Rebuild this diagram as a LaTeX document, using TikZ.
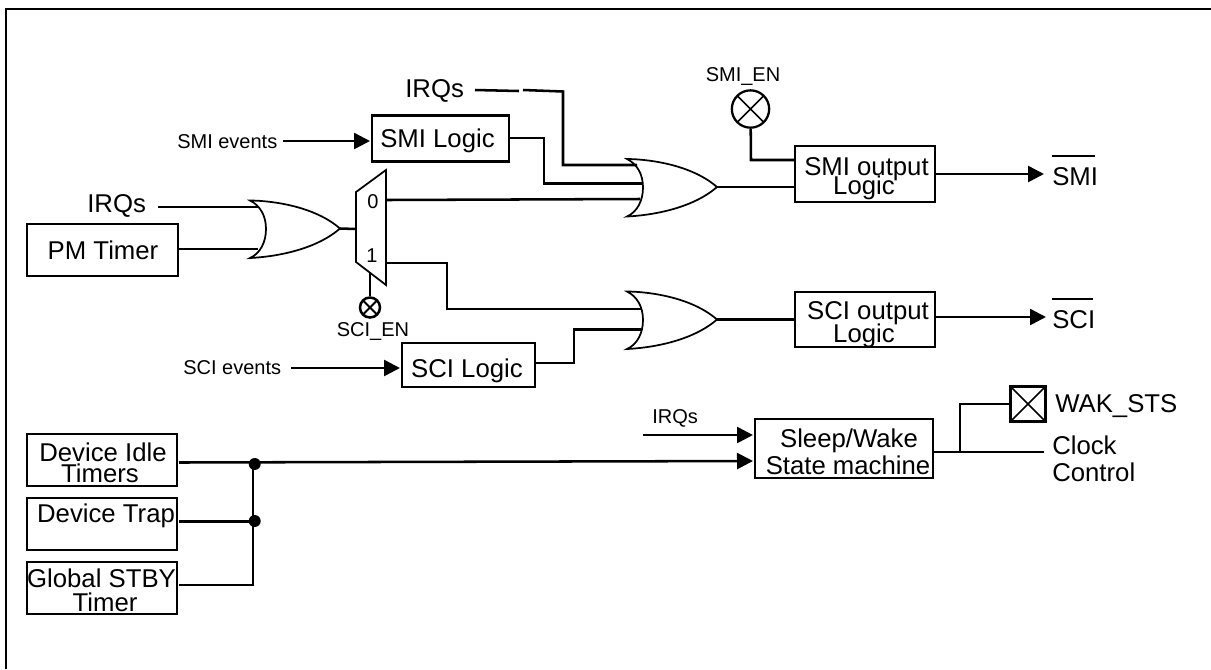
\documentclass[tikz,border=0pt]{standalone}
\usepackage{fontspec}
\setmainfont{Liberation Sans}
\usetikzlibrary{arrows.meta}
\newcommand{\bigf}{\fontsize{19.3}{16}\selectfont}
\newcommand{\smallf}{\fontsize{15}{15}\selectfont}
\tikzset{
  x=0.75pt,y=-0.75pt,
  wire/.style={line width=1.9pt,line cap=butt,line join=miter},
  arrowwire/.style={wire,-{Triangle[length=12pt,width=12pt]}},
  gate/.style={line width=1.3pt,fill=white},
  boxn/.style={draw,line width=1.9pt,inner sep=0pt,outer sep=0pt},
  big/.style={inner sep=0pt,font=\bigf},
  small/.style={inner sep=0pt,font=\smallf},
  dot/.style={circle,fill=black,inner sep=0pt,minimum size=9pt},
  crossed/.style={path picture={
    \draw[line width=#1] (path picture bounding box.north west) -- (path picture bounding box.south east)
     (path picture bounding box.north east) -- (path picture bounding box.south west);}},
}
\newcommand{\pxbox}[5]{%
  \node[boxn,minimum width={(#4-#2)*0.75pt},minimum height={(#5-#3)*0.75pt}] (#1) at ({(#2+#4)/2},{(#3+#5)/2}) {};}
\newcommand{\orgate}[2]{%
  \begin{scope}[shift={#2}]
    \draw[gate] (0,0) .. controls (10,0) and (60,2) .. (90,28)
      .. controls (60,54) and (10,57) .. (0,57.5)
      .. controls (10,53) and (16,42) .. (16,28.5)
      .. controls (16,15) and (10,5) .. (0,0) -- cycle;
    \coordinate (#1-out) at (90,28);
  \end{scope}}
\begin{document}
\begin{tikzpicture}
\useasboundingbox (0,0) rectangle (1211,669);
\coordinate (framebl) at (6,669);
\coordinate (frametl) at (6,9);
\coordinate (frametr) at (1211,9);
\draw[line width=1.6pt] (framebl) -- (frametl) -- (frametr);

% boxes
\pxbox{smilogic}{372}{115.5}{509}{161.5}
\pxbox{pm}{27}{224}{178}{276}
\pxbox{scilogic}{402}{343}{535}{387}
\pxbox{smiout}{795}{146}{935}{202}
\pxbox{sciout}{795}{292}{935}{347}
\pxbox{sleep}{755}{419}{933}{478}
\pxbox{idle}{27}{434}{177}{486}
\pxbox{trap}{27}{498}{177}{550}
\pxbox{stby}{27}{562}{177}{614}
\node[boxn,crossed=1.3pt,minimum size=26.5pt] (wak) at (1028,404) {};

% box texts
\node[big,anchor=base] (t1) at (437.5,147) {SMI Logic};
\node[big,anchor=base] (t2) at (103,259) {PM Timer};
\node[big,anchor=base] (t3) at (467,377) {SCI Logic};
\node[big,anchor=base] (t4) at (866.5,175) {SMI output};
\node[big,anchor=base] (t5) at (864,194) {Logic};
\node[big,anchor=base] (t6) at (868,319) {SCI output};
\node[big,anchor=base] (t7) at (864,342) {Logic};
\node[big,anchor=base] (t8) at (849,447) {Sleep/Wake};
\node[big,anchor=base] (t9) at (848,474) {State machine};
\node[big,anchor=base] (t10) at (103,461) {Device Idle};
\node[big,anchor=base] (t11) at (100,482) {Timers};
\node[big,anchor=base] (t12) at (106,522) {Device Trap};
\node[big,anchor=base] (t13) at (101.5,587) {Global STBY};
\node[big,anchor=base] (t14) at (105,611) {Timer};

% gates
\orgate{ora}{(250,200.5)}
\orgate{orb}{(627,159)}
\orgate{orc}{(627,291.5)}

% mux
\draw[gate] (356,192) -- (386,170) -- (386,285) -- (356,262) -- cycle;
\node[small] (mux0) at (373,202) {0};
\node[small] (mux1) at (372,256) {1};

% enable circles
\node[draw,circle,crossed=1.5pt,line width=1.9pt,minimum size=15pt,inner sep=0pt] (scien) at (370,307.5) {};
\node[draw,circle,crossed=1.3pt,line width=1.7pt,minimum size=28pt,inner sep=0pt] (smien) at (750.5,109) {};

% texts
\node[small,anchor=base] (tsciEN) at (373,336) {SCI\_EN};
\node[small,anchor=base] (tsmiEN) at (743,81) {SMI\_EN};
\node[small,anchor=base west] (tsmiev) at (177,148) {SMI events};
\node[small,anchor=base west] (tsciev) at (183,374) {SCI events};
\node[small,anchor=base west] (tirqs3) at (652,423) {IRQs};
\node[big,anchor=base west] (tirqs1) at (405,97) {IRQs};
\node[big,anchor=base west] (tirqs2) at (87,212) {IRQs};
\node[big,anchor=base west] (smi) at (1052,185) {SMI};
\node[big,anchor=base west] (sci) at (1052,328) {SCI};
\node[big,anchor=base west] (twak) at (1055,412) {WAK\_STS};
\node[big,anchor=base west] (clock) at (1052,454) {Clock};
\node[big,anchor=base west] (control) at (1052,481) {Control};
\coordinate (smibara) at (1052,156); \coordinate (smibarb) at (1095,156);
\coordinate (scibara) at (1052,299); \coordinate (scibarb) at (1093,299);
\draw[line width=1.5pt] (smibara) -- (smibarb);
\draw[line width=1.5pt] (scibara) -- (scibarb);

% wires
\coordinate (irqa) at (475,90);
\coordinate (irqb) at (158,207);
\coordinate (irqc) at (643,435);
\coordinate (branch) at (960,452);
\coordinate (clockend) at (1044,452);
\draw[wire] (irqb) -- (258,207);
\draw[wire] (179,249) -- (258,249);
\draw[wire] (ora-out) -- (356,229);
\draw[arrowwire] (283,141) -- (370,141);
\draw[arrowwire] (291,368) -- (400,368);
\draw[wire] (irqa) -- (519,91);
\draw[wire] (523,90) -- (563,91.5) -- (563,165) -- (637,165);
\draw[wire] (509,138) -- (544,138) -- (544,183.5) -- (643,183.5);
\draw[wire] (386,200) -- (640,199);
\draw[wire] (386,263) -- (447,263) -- (447,309) -- (641,309);
\draw[wire] (535,363) -- (574,363) -- (574,329.5) -- (641,329.5);
\draw[wire] (orb-out) -- (smiout.west |- orb-out);
\draw[wire] (orc-out) -- (sciout.west |- orc-out);
\draw[wire] (370,272) -- (scien);
\draw[wire] (smien) -- (751,160) -- (795,160);
\draw[arrowwire] (935,174) -- (1044,174);
\draw[arrowwire] (935,317) -- (1046,317);
\draw[arrowwire] (irqc) -- (753,435);
\draw[arrowwire] (179,462.5) -- (753,461);
\draw[wire] (933,452) -- (clockend);
\draw[wire] (branch) -- (960,404) -- (wak.west |- 0,404);
\draw[wire] (179,521.5) -- (254,521.5);
\draw[wire] (179,585) -- (253,585) -- (253,464);
\node[dot] (dota) at (254.7,464) {};
\node[dot] (dotb) at (254.7,521) {};
\end{tikzpicture}
\end{document}
